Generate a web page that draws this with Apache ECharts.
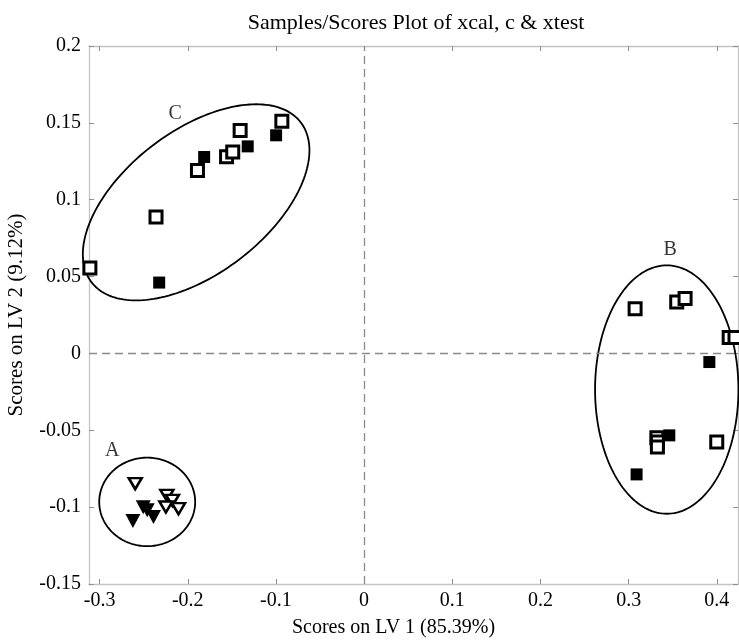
<!DOCTYPE html>
<html>
<head>
<meta charset="utf-8">
<script src="https://cdn.jsdelivr.net/npm/echarts@6/dist/echarts.min.js"></script>
<style>html,body{margin:0;padding:0;background:#fff}#c{width:739px;height:640px}</style>
</head>
<body>
<div id="c"></div>
<script>
// ---- data ----
const xTicks = [-0.3, -0.2, -0.1, 0, 0.1, 0.2, 0.3, 0.4];
const yTicks = [-0.15, -0.1, -0.05, 0, 0.05, 0.1, 0.15, 0.2];

// Group C (squares)
const cOpen = [[-0.311, 0.0555], [-0.236, 0.0887], [-0.189, 0.119], [-0.156, 0.128], [-0.149, 0.131], [-0.1406, 0.145], [-0.0933, 0.151]];
const cFilled = [[-0.2324, 0.0461], [-0.1814, 0.1278], [-0.132, 0.1347], [-0.0998, 0.1419]];
// Group B (squares)
const bOpen = [[0.3073, 0.0291], [0.3545, 0.0334], [0.364, 0.0357], [0.414, 0.0103], [0.4206, 0.0103], [0.332, -0.0548], [0.3326, -0.0576], [0.3326, -0.0609], [0.3999, -0.0576]];
const bFilled = [[0.3915, -0.0056], [0.3461, -0.0533], [0.309, -0.0787]];
// Group A (triangles)
const aOpen = [[-0.2596, -0.0847], [-0.2237, -0.0923], [-0.2174, -0.0956], [-0.2248, -0.0999], [-0.2105, -0.1010]];
const aFilled = [[-0.2622, -0.1090], [-0.2505, -0.1000], [-0.2460, -0.1020], [-0.2389, -0.1064]];

// Confidence ellipses: center, spread x, spread y, correlation
const ellipseNames = ['A', 'B', 'C'];
const ellipseCx = [-0.246, 0.3432, -0.1905];
const ellipseCy = [-0.0966, -0.0235, 0.0983];
const ellipseSx = [0.0544, 0.0813, 0.1285];
const ellipseSy = [0.0288, 0.0808, 0.0638];
const ellipseR = [0, 0, 0.53];

// Group labels
const labelText = ['C', 'B', 'A'];
const labelPos = [[-0.2143, 0.1562], [0.347, 0.0677], [-0.2857, -0.063]];

// ---- chart ----
const FONT = 'Liberation Serif';
const chart = echarts.init(document.getElementById('c'));
const axisLineStyle = { color: '#c4c4c4', width: 1.3 };
const tickStyle = { color: '#8f8f8f', width: 1 };

function mkX(pos, showLabel) {
  return {
    type: 'value', position: pos, min: -0.312, max: 0.424,
    axisLine: { show: true, onZero: false, lineStyle: axisLineStyle },
    axisTick: { show: true, inside: true, length: 5, lineStyle: tickStyle, customValues: xTicks },
    axisLabel: { show: showLabel, customValues: xTicks, color: '#000', fontFamily: FONT, fontSize: 20, margin: 7,
      formatter: v => String(Math.round(v * 100) / 100) },
    splitLine: { show: false },
    name: showLabel ? 'Scores on LV 1 (85.39%)' : '',
    nameLocation: 'middle', nameGap: 34,
    nameTextStyle: { color: '#000', fontFamily: FONT, fontSize: 20, padding: [0, 40, 0, 0] }
  };
}
function mkY(pos, showLabel) {
  return {
    type: 'value', position: pos, min: -0.15, max: 0.2,
    axisLine: { show: true, onZero: false, lineStyle: axisLineStyle },
    axisTick: { show: true, inside: true, length: 5, lineStyle: tickStyle, customValues: yTicks },
    axisLabel: { show: showLabel, customValues: yTicks, color: '#000', fontFamily: FONT, fontSize: 20, margin: 8,
      formatter: v => String(Math.round(v * 100) / 100) },
    splitLine: { show: false },
    name: showLabel ? 'Scores on LV 2 (9.12%)' : '',
    nameLocation: 'middle', nameGap: 62, nameRotate: 90,
    nameTextStyle: { color: '#000', fontFamily: FONT, fontSize: 21 }
  };
}

const openSq = { symbol: 'rect', symbolSize: 12, itemStyle: { color: '#fff', borderColor: '#000', borderWidth: 3, opacity: 1 } };
const fillSq = { symbol: 'rect', symbolSize: 12, itemStyle: { color: '#000', borderWidth: 0, opacity: 1 } };
const openTri = { symbol: 'triangle', symbolRotate: 180, symbolSize: [13, 11], itemStyle: { color: '#fff', borderColor: '#000', borderWidth: 2.5, opacity: 1 } };
const fillTri = { symbol: 'triangle', symbolRotate: 180, symbolSize: [15, 14], itemStyle: { color: '#000', borderWidth: 0, opacity: 1 } };

function sc(data, style, z) {
  return Object.assign({ type: 'scatter', data: data, z: z, silent: true, clip: false }, style);
}

const ellipseData = ellipseNames.map((n, i) => [i]);

chart.setOption({
  animation: false,
  backgroundColor: '#fff',
  title: {
    text: 'Samples/Scores Plot of xcal, c & xtest', left: 411, top: 7, textAlign: 'center',
    textStyle: { fontFamily: FONT, fontSize: 22, fontWeight: 'normal', color: '#000' }
  },
  grid: { left: 89, right: 1, top: 46, bottom: 56, outerBoundsMode: 'none', containLabel: false },
  xAxis: [mkX('bottom', true), mkX('top', false)],
  yAxis: [mkY('left', true), mkY('right', false)],
  series: [
    {
      type: 'custom', silent: true, clip: false, z: 2,
      data: ellipseData,
      renderItem: function (params, api) {
        const i = api.value(0);
        const pts = [];
        const k = Math.sqrt(1 - ellipseR[i] * ellipseR[i]);
        for (let s = 0; s <= 180; s++) {
          const t = s / 180 * Math.PI * 2;
          const x = ellipseCx[i] + ellipseSx[i] * Math.cos(t);
          const y = ellipseCy[i] + ellipseSy[i] * (ellipseR[i] * Math.cos(t) + k * Math.sin(t));
          pts.push(api.coord([x, y]));
        }
        return { type: 'polyline', shape: { points: pts }, style: { stroke: '#000', lineWidth: 1.8, fill: null } };
      },
      markLine: {
        silent: true, symbol: 'none', label: { show: false },
        lineStyle: { color: '#8a8a8a', type: [8, 5], width: 1.3 },
        data: [{ xAxis: 0 }, { yAxis: 0 }]
      }
    },
    sc(cFilled, fillSq, 3), sc(cOpen, openSq, 4),
    sc(bFilled, fillSq, 3), sc(bOpen, openSq, 4),
    sc(aFilled, fillTri, 3), sc(aOpen, openTri, 4),
    {
      type: 'scatter', silent: true, z: 5, symbolSize: 0, clip: false,
      data: labelPos.map((p, i) => ({ value: p, name: labelText[i] })),
      label: { show: true, position: 'inside', formatter: '{b}', fontFamily: FONT, fontSize: 20, color: '#000' }
    }
  ]
});
</script>
</body>
</html>
